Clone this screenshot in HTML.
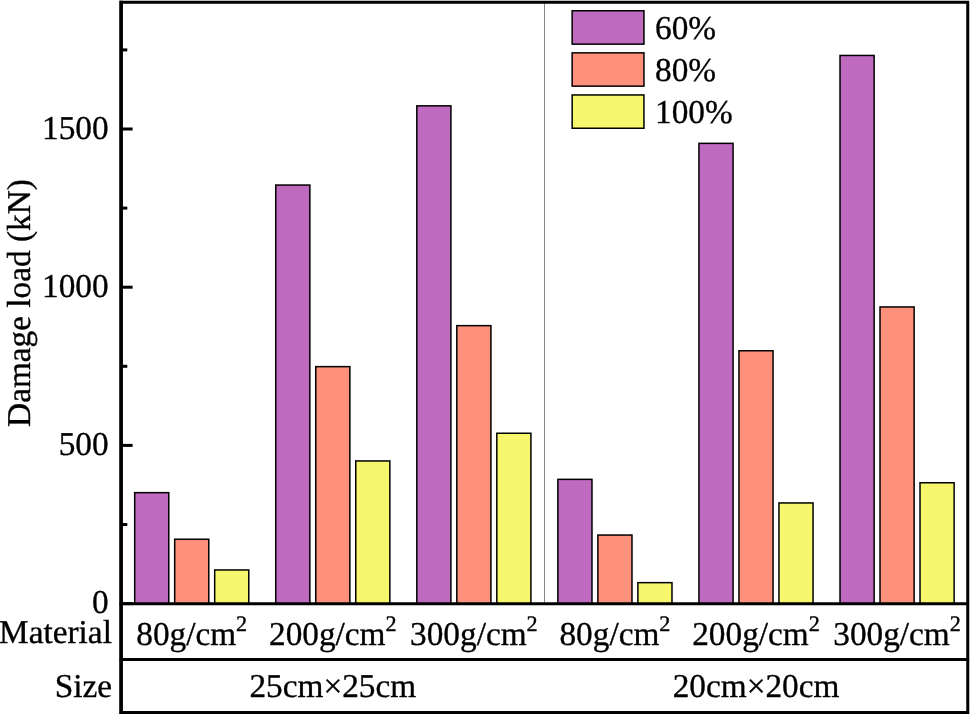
<!DOCTYPE html>
<html><head><meta charset="utf-8"><style>
html,body{margin:0;padding:0;background:#fff;width:970px;height:714px;overflow:hidden;}
svg text{font-family:"Liberation Serif",serif;fill:#000;stroke:#000;stroke-width:0.35px;text-rendering:geometricPrecision;}
</style></head><body>
<svg width="970" height="714" viewBox="0 0 970 714" style="position:absolute;left:0;top:0;will-change:transform">
<line x1="544.5" y1="3" x2="544.5" y2="603" stroke="#888" stroke-width="1"/>
<rect x="134.68" y="492.65" width="34.10" height="111.15" fill="#BE6ABE" stroke="#000" stroke-width="1.5"/>
<rect x="174.68" y="539.25" width="34.10" height="64.55" fill="#FF917C" stroke="#000" stroke-width="1.5"/>
<rect x="214.68" y="569.95" width="34.10" height="33.85" fill="#F7F76E" stroke="#000" stroke-width="1.5"/>
<rect x="275.75" y="185.05" width="34.10" height="418.75" fill="#BE6ABE" stroke="#000" stroke-width="1.5"/>
<rect x="315.75" y="366.65" width="34.10" height="237.15" fill="#FF917C" stroke="#000" stroke-width="1.5"/>
<rect x="355.75" y="460.95" width="34.10" height="142.85" fill="#F7F76E" stroke="#000" stroke-width="1.5"/>
<rect x="416.82" y="105.85" width="34.10" height="497.95" fill="#BE6ABE" stroke="#000" stroke-width="1.5"/>
<rect x="456.82" y="325.65" width="34.10" height="278.15" fill="#FF917C" stroke="#000" stroke-width="1.5"/>
<rect x="496.82" y="433.25" width="34.10" height="170.55" fill="#F7F76E" stroke="#000" stroke-width="1.5"/>
<rect x="557.88" y="479.35" width="34.10" height="124.45" fill="#BE6ABE" stroke="#000" stroke-width="1.5"/>
<rect x="597.88" y="535.05" width="34.10" height="68.75" fill="#FF917C" stroke="#000" stroke-width="1.5"/>
<rect x="637.88" y="582.65" width="34.10" height="21.15" fill="#F7F76E" stroke="#000" stroke-width="1.5"/>
<rect x="698.95" y="143.35" width="34.10" height="460.45" fill="#BE6ABE" stroke="#000" stroke-width="1.5"/>
<rect x="738.95" y="350.75" width="34.10" height="253.05" fill="#FF917C" stroke="#000" stroke-width="1.5"/>
<rect x="778.95" y="502.95" width="34.10" height="100.85" fill="#F7F76E" stroke="#000" stroke-width="1.5"/>
<rect x="840.02" y="55.45" width="34.10" height="548.35" fill="#BE6ABE" stroke="#000" stroke-width="1.5"/>
<rect x="880.02" y="306.95" width="34.10" height="296.85" fill="#FF917C" stroke="#000" stroke-width="1.5"/>
<rect x="920.02" y="482.75" width="34.10" height="121.05" fill="#F7F76E" stroke="#000" stroke-width="1.5"/>
<rect x="572.15" y="10.75" width="71.80" height="33.40" fill="#BE6ABE" stroke="#000" stroke-width="1.5"/>
<text x="655" y="39.05" font-size="33.3">60%</text>
<rect x="572.15" y="52.85" width="71.80" height="33.30" fill="#FF917C" stroke="#000" stroke-width="1.5"/>
<text x="655" y="81.10" font-size="33.3">80%</text>
<rect x="572.15" y="94.95" width="71.80" height="33.30" fill="#F7F76E" stroke="#000" stroke-width="1.5"/>
<text x="655" y="123.20" font-size="33.3">100%</text>
<path d="M967.75,2.3 H121.1 V714 M967.75,0.8 V714 M119.35,603.80 H969.25" fill="none" stroke="#000" stroke-width="3"/>
<line x1="121.1" y1="0.8" x2="121.1" y2="714" stroke="#000" stroke-width="3.5"/>
<line x1="122" y1="603.60" x2="132.6" y2="603.60" stroke="#000" stroke-width="3"/>
<line x1="122" y1="445.40" x2="132.6" y2="445.40" stroke="#000" stroke-width="3"/>
<line x1="122" y1="287.20" x2="132.6" y2="287.20" stroke="#000" stroke-width="3"/>
<line x1="122" y1="129.00" x2="132.6" y2="129.00" stroke="#000" stroke-width="3"/>
<line x1="122" y1="524.50" x2="127.3" y2="524.50" stroke="#000" stroke-width="3"/>
<line x1="122" y1="366.30" x2="127.3" y2="366.30" stroke="#000" stroke-width="3"/>
<line x1="122" y1="208.10" x2="127.3" y2="208.10" stroke="#000" stroke-width="3"/>
<line x1="122" y1="49.90" x2="127.3" y2="49.90" stroke="#000" stroke-width="3"/>
<text x="108.6" y="613.30" font-size="33.3" text-anchor="end">0</text>
<text x="108.6" y="455.10" font-size="33.3" text-anchor="end">500</text>
<text x="108.6" y="296.90" font-size="33.3" text-anchor="end">1000</text>
<text x="108.6" y="138.70" font-size="33.3" text-anchor="end">1500</text>
<text transform="translate(29.8,303) rotate(-90)" font-size="33.3" text-anchor="middle">Damage load (kN)</text>
<line x1="119.70" y1="659.4" x2="969.10" y2="659.4" stroke="#000" stroke-width="3"/>
<line x1="119.70" y1="712.5" x2="969.10" y2="712.5" stroke="#000" stroke-width="3"/>
<text x="111.9" y="643" font-size="33.3" text-anchor="end">Material</text>
<text x="112.0" y="697.2" font-size="33.3" text-anchor="end">Size</text>
<text x="191.73" y="644.7" font-size="33.3" text-anchor="middle">80g/cm<tspan font-size="22.2" dy="-14.2">2</tspan></text>
<text x="332.80" y="644.7" font-size="33.3" text-anchor="middle">200g/cm<tspan font-size="22.2" dy="-14.2">2</tspan></text>
<text x="473.87" y="644.7" font-size="33.3" text-anchor="middle">300g/cm<tspan font-size="22.2" dy="-14.2">2</tspan></text>
<text x="614.93" y="644.7" font-size="33.3" text-anchor="middle">80g/cm<tspan font-size="22.2" dy="-14.2">2</tspan></text>
<text x="756.00" y="644.7" font-size="33.3" text-anchor="middle">200g/cm<tspan font-size="22.2" dy="-14.2">2</tspan></text>
<text x="897.07" y="644.7" font-size="33.3" text-anchor="middle">300g/cm<tspan font-size="22.2" dy="-14.2">2</tspan></text>
<text x="332.85" y="697.2" font-size="33.3" text-anchor="middle">25cm×25cm</text>
<text x="756.05" y="697.2" font-size="33.3" text-anchor="middle">20cm×20cm</text>
</svg>
</body></html>
